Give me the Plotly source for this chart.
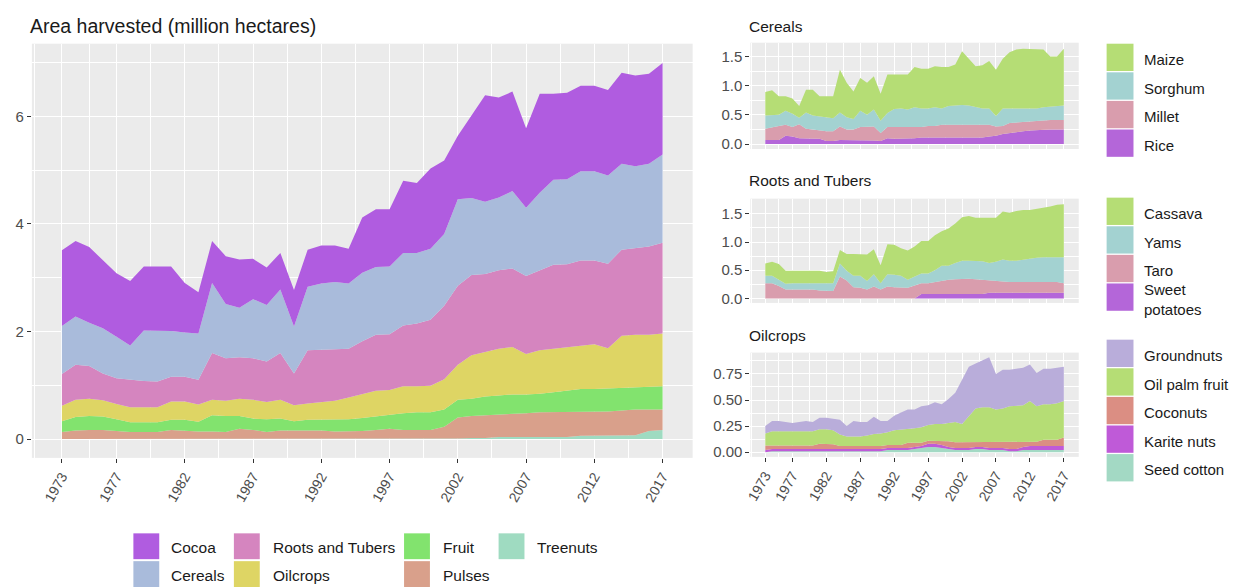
import plotly.graph_objects as go

# ---- data -------------------------------------------------------------
years = list(range(1973, 2018))
tick_years = [1973, 1977, 1982, 1987, 1992, 1997, 2002, 2007, 2012, 2017]
minor_years = [1971, 1975, 1979.5, 1984.5, 1989.5, 1994.5, 1999.5, 2004.5, 2009.5, 2014.5]

# main chart (million hectares), bottom of the stack first
treenuts = [0, 0, 0, 0, 0, 0, 0, 0, 0, 0,
            0, 0, 0, 0, 0, 0, 0, 0, 0, 0,
            0, 0, 0, 0, 0.01, 0.01, 0.01, 0.01, 0.01, 0.01,
            0.02, 0.02, 0.04, 0.04, 0.04, 0.04, 0.04, 0.04, 0.06, 0.06,
            0.06, 0.06, 0.07, 0.15, 0.17]
pulses = [0.13, 0.16, 0.17, 0.17, 0.15, 0.13, 0.13, 0.13, 0.17, 0.15,
          0.14, 0.14, 0.13, 0.19, 0.17, 0.13, 0.16, 0.16, 0.16, 0.16,
          0.14, 0.14, 0.15, 0.17, 0.18, 0.16, 0.16, 0.16, 0.22, 0.39,
          0.41, 0.42, 0.42, 0.43, 0.44, 0.46, 0.46, 0.47, 0.45, 0.45,
          0.45, 0.47, 0.48, 0.40, 0.38]
fruit = [0.20, 0.25, 0.26, 0.25, 0.22, 0.18, 0.18, 0.18, 0.19, 0.21,
         0.18, 0.30, 0.30, 0.24, 0.21, 0.24, 0.22, 0.17, 0.20, 0.20,
         0.22, 0.23, 0.24, 0.25, 0.27, 0.31, 0.33, 0.33, 0.32, 0.33,
         0.32, 0.35, 0.35, 0.36, 0.35, 0.34, 0.37, 0.39, 0.42, 0.42,
         0.43, 0.42, 0.42, 0.43, 0.43]
oilcrops = [0.29, 0.32, 0.32, 0.30, 0.28, 0.28, 0.28, 0.28, 0.34, 0.34,
            0.32, 0.29, 0.28, 0.32, 0.35, 0.32, 0.35, 0.30, 0.30, 0.33,
            0.35, 0.40, 0.45, 0.48, 0.45, 0.50, 0.48, 0.49, 0.56, 0.65,
            0.81, 0.83, 0.87, 0.88, 0.75, 0.81, 0.81, 0.80, 0.81, 0.83,
            0.75, 0.97, 0.97, 0.96, 0.98]
roots = [0.59, 0.65, 0.61, 0.50, 0.48, 0.51, 0.49, 0.48, 0.46, 0.46,
         0.46, 0.87, 0.79, 0.77, 0.77, 0.75, 0.87, 0.59, 0.99, 0.97,
         0.96, 0.91, 0.98, 1.04, 1.04, 1.13, 1.17, 1.23, 1.37, 1.47,
         1.49, 1.45, 1.46, 1.46, 1.45, 1.48, 1.56, 1.55, 1.58, 1.56,
         1.57, 1.60, 1.61, 1.64, 1.69]
cereals = [0.89, 0.90, 0.80, 0.84, 0.77, 0.64, 0.94, 0.95, 0.85, 0.82,
           0.86, 1.30, 1.01, 0.92, 1.10, 1.05, 1.18, 0.87, 1.18, 1.23,
           1.25, 1.21, 1.27, 1.26, 1.26, 1.35, 1.31, 1.32, 1.33, 1.61,
           1.43, 1.34, 1.35, 1.44, 1.27, 1.45, 1.58, 1.58, 1.66, 1.66,
           1.64, 1.60, 1.52, 1.54, 1.64]
cocoa = [1.41, 1.40, 1.41, 1.27, 1.18, 1.20, 1.19, 1.19, 1.20, 0.92,
         0.77, 0.78, 0.89, 0.90, 0.75, 0.70, 0.68, 0.68, 0.69, 0.71,
         0.68, 0.65, 1.03, 1.07, 1.06, 1.34, 1.30, 1.49, 1.37, 1.18,
         1.54, 1.98, 1.86, 1.85, 1.48, 1.84, 1.60, 1.61, 1.59, 1.59,
         1.59, 1.69, 1.69, 1.67, 1.70]

# cereals panel
rice = [0.07, 0.07, 0.07, 0.14, 0.13, 0.10, 0.10, 0.10, 0.09, 0.05,
        0.05, 0.07, 0.07, 0.07, 0.07, 0.06, 0.06, 0.05, 0.10, 0.09,
        0.09, 0.10, 0.10, 0.11, 0.11, 0.11, 0.11, 0.12, 0.12, 0.12,
        0.12, 0.12, 0.11, 0.13, 0.14, 0.17, 0.19, 0.21, 0.22, 0.23,
        0.24, 0.25, 0.25, 0.25, 0.25]
millet = [0.19, 0.22, 0.24, 0.19, 0.16, 0.24, 0.16, 0.15, 0.14, 0.17,
          0.17, 0.23, 0.18, 0.18, 0.22, 0.24, 0.24, 0.14, 0.19, 0.20,
          0.20, 0.19, 0.19, 0.18, 0.20, 0.20, 0.22, 0.21, 0.21, 0.21,
          0.21, 0.21, 0.22, 0.20, 0.16, 0.14, 0.17, 0.16, 0.16, 0.16,
          0.16, 0.16, 0.16, 0.16, 0.16]
sorghum = [0.23, 0.21, 0.19, 0.24, 0.23, 0.11, 0.28, 0.24, 0.24, 0.23,
           0.22, 0.24, 0.21, 0.18, 0.28, 0.20, 0.29, 0.21, 0.24, 0.31,
           0.32, 0.30, 0.34, 0.32, 0.30, 0.32, 0.28, 0.32, 0.33, 0.34,
           0.33, 0.30, 0.28, 0.28, 0.18, 0.30, 0.25, 0.24, 0.23, 0.22,
           0.21, 0.22, 0.23, 0.25, 0.25]
maize = [0.40, 0.42, 0.32, 0.25, 0.26, 0.20, 0.39, 0.44, 0.35, 0.37,
         0.38, 0.73, 0.59, 0.47, 0.56, 0.55, 0.57, 0.46, 0.66, 0.59,
         0.58, 0.60, 0.69, 0.68, 0.68, 0.70, 0.71, 0.67, 0.70, 0.92,
         0.80, 0.70, 0.74, 0.81, 0.79, 0.85, 0.96, 1.01, 1.02, 1.02,
         1.02, 0.99, 0.86, 0.84, 0.97]

# roots and tubers panel
sweet_potatoes = [0, 0, 0, 0, 0, 0, 0, 0, 0, 0,
                  0, 0, 0, 0, 0, 0, 0, 0, 0, 0,
                  0, 0, 0, 0.08, 0.08, 0.08, 0.08, 0.08, 0.08, 0.08,
                  0.08, 0.08, 0.08, 0.10, 0.10, 0.10, 0.10, 0.10, 0.10, 0.10,
                  0.10, 0.10, 0.10, 0.10, 0.10]
taro = [0.27, 0.27, 0.22, 0.16, 0.16, 0.16, 0.16, 0.16, 0.14, 0.14,
        0.13, 0.39, 0.32, 0.20, 0.19, 0.16, 0.21, 0.16, 0.21, 0.20,
        0.19, 0.19, 0.23, 0.19, 0.19, 0.21, 0.24, 0.25, 0.26, 0.27,
        0.27, 0.26, 0.25, 0.22, 0.21, 0.19, 0.19, 0.19, 0.19, 0.19,
        0.19, 0.19, 0.19, 0.19, 0.17]
yams = [0.13, 0.13, 0.11, 0.10, 0.11, 0.11, 0.11, 0.11, 0.13, 0.13,
        0.14, 0.23, 0.17, 0.20, 0.21, 0.15, 0.22, 0.11, 0.22, 0.22,
        0.21, 0.14, 0.16, 0.17, 0.17, 0.21, 0.26, 0.25, 0.29, 0.32,
        0.32, 0.33, 0.33, 0.31, 0.34, 0.40, 0.38, 0.38, 0.40, 0.42,
        0.43, 0.44, 0.44, 0.44, 0.46]
cassava = [0.22, 0.25, 0.28, 0.23, 0.22, 0.22, 0.22, 0.22, 0.22, 0.20,
           0.21, 0.24, 0.30, 0.39, 0.38, 0.47, 0.44, 0.32, 0.53, 0.53,
           0.49, 0.52, 0.53, 0.58, 0.58, 0.62, 0.61, 0.66, 0.70, 0.77,
           0.79, 0.76, 0.77, 0.80, 0.78, 0.85, 0.85, 0.88, 0.88, 0.86,
           0.87, 0.87, 0.90, 0.93, 0.94]

# oilcrops panel
seed_cotton = [0.00, 0.01, 0.01, 0.01, 0.01, 0.01, 0.01, 0.01, 0.01, 0.01,
               0.01, 0.01, 0.01, 0.01, 0.01, 0.01, 0.01, 0.01, 0.02, 0.02,
               0.02, 0.02, 0.03, 0.04, 0.05, 0.05, 0.04, 0.03, 0.02, 0.02,
               0.02, 0.03, 0.03, 0.02, 0.02, 0.02, 0.01, 0.01, 0.02, 0.02,
               0.02, 0.02, 0.02, 0.02, 0.02]
karite = [0.02, 0.02, 0.02, 0.02, 0.02, 0.02, 0.02, 0.02, 0.02, 0.02,
          0.02, 0.02, 0.02, 0.02, 0.02, 0.02, 0.02, 0.02, 0.02, 0.02,
          0.02, 0.02, 0.02, 0.02, 0.03, 0.03, 0.03, 0.02, 0.02, 0.02,
          0.02, 0.02, 0.02, 0.02, 0.02, 0.02, 0.02, 0.02, 0.03, 0.04,
          0.04, 0.04, 0.04, 0.04, 0.04]
coconuts = [0.045, 0.035, 0.035, 0.035, 0.035, 0.035, 0.035, 0.035, 0.05, 0.05,
            0.045, 0.03, 0.03, 0.03, 0.03, 0.03, 0.03, 0.03, 0.03, 0.03,
            0.03, 0.05, 0.04, 0.03, 0.03, 0.03, 0.04, 0.055, 0.055, 0.055,
            0.055, 0.045, 0.05, 0.06, 0.055, 0.055, 0.065, 0.065, 0.05, 0.04,
            0.04, 0.06, 0.06, 0.06, 0.08]
oil_palm = [0.115, 0.135, 0.135, 0.135, 0.135, 0.135, 0.135, 0.135, 0.14, 0.14,
            0.135, 0.11, 0.09, 0.09, 0.09, 0.10, 0.115, 0.12, 0.12, 0.14,
            0.145, 0.135, 0.14, 0.15, 0.15, 0.16, 0.16, 0.175, 0.195, 0.175,
            0.245, 0.325, 0.33, 0.33, 0.315, 0.325, 0.345, 0.35, 0.35, 0.39,
            0.34, 0.34, 0.34, 0.35, 0.35]
groundnuts = [0.07, 0.10, 0.10, 0.09, 0.08, 0.09, 0.10, 0.09, 0.11, 0.11,
              0.11, 0.14, 0.10, 0.15, 0.14, 0.13, 0.165, 0.12, 0.11, 0.14,
              0.165, 0.185, 0.18, 0.20, 0.19, 0.21, 0.19, 0.23, 0.28, 0.42,
              0.48, 0.43, 0.45, 0.48, 0.34, 0.37, 0.35, 0.355, 0.36, 0.35,
              0.32, 0.34, 0.34, 0.34, 0.33]

# ---- colours ----------------------------------------------------------
col = {
    "Cocoa": "#B05CE0", "Cereals": "#A9BBDB", "Roots and Tubers": "#D585BF",
    "Oilcrops": "#DED564", "Fruit": "#82E36E", "Pulses": "#D9A08B",
    "Treenuts": "#9FDBC1",
}
lime, teal, rose, violet = "#B5DD75", "#A3D2D1", "#D99DAD", "#B466D9"

W, H = 1233, 588
FONT = "Liberation Sans, Arial, sans-serif"


def fx(v):
    return v / W


def fy(v):
    return 1 - v / H


fig = go.Figure()


def add_stack(series, group, xa, ya):
    for name, vals, c in series:
        fig.add_trace(go.Scatter(
            x=years, y=vals, name=name, stackgroup=group, mode="lines",
            line=dict(width=0, color=c), fillcolor=c, showlegend=False,
            xaxis=xa, yaxis=ya))


add_stack([("Treenuts", treenuts, col["Treenuts"]),
           ("Pulses", pulses, col["Pulses"]),
           ("Fruit", fruit, col["Fruit"]),
           ("Oilcrops", oilcrops, col["Oilcrops"]),
           ("Roots and Tubers", roots, col["Roots and Tubers"]),
           ("Cereals", cereals, col["Cereals"]),
           ("Cocoa", cocoa, col["Cocoa"])], "main", "x", "y")
add_stack([("Rice", rice, violet), ("Millet", millet, rose),
           ("Sorghum", sorghum, teal), ("Maize", maize, lime)], "cer", "x2", "y2")
add_stack([("Sweet potatoes", sweet_potatoes, violet), ("Taro", taro, rose),
           ("Yams", yams, teal), ("Cassava", cassava, lime)], "rt", "x3", "y3")
add_stack([("Seed cotton", seed_cotton, "#A3D9C4"), ("Karite nuts", karite, "#BF5AD8"),
           ("Coconuts", coconuts, "#DB8E83"), ("Oil palm fruit", oil_palm, lime),
           ("Groundnuts", groundnuts, "#B9ADDA")], "oil", "x4", "y4")

grid = dict(showgrid=True, gridcolor="white", gridwidth=1.4, zeroline=False,
            showline=False, tickcolor="#333333", ticklen=4, tickwidth=1,
            tickfont=dict(family=FONT, size=15, color="#4D4D4D"), fixedrange=True)


def xax(domain, anchor, labels):
    d = dict(grid, domain=domain, anchor=anchor, range=[1970.8, 2019.2],
             tickmode="array", tickvals=tick_years,
             minor=dict(tickvals=minor_years, showgrid=True, gridcolor="white",
                        gridwidth=0.7, ticks=""))
    if labels:
        d.update(ticks="outside", tickangle=-60, tickfont=dict(family=FONT, size=14, color="#4D4D4D"))
    else:
        d.update(ticks="", showticklabels=False)
    return d


def yax(domain, anchor, rng, vals, texts, minors):
    return dict(grid, domain=domain, anchor=anchor, range=rng, tickmode="array",
                tickvals=vals, ticktext=texts, ticks="outside",
                minor=dict(tickvals=minors, showgrid=True, gridcolor="white",
                           gridwidth=0.7, ticks=""))


main_x = [fx(26), fx(690)]
side_x = [fx(748), fx(1078)]

fig.update_layout(
    width=W, height=H, margin=dict(l=0, r=0, t=0, b=0),
    paper_bgcolor="white", plot_bgcolor="#EBEBEB",
    font=dict(family=FONT, color="#1A1A1A"),
    xaxis=xax(main_x, "y", True),
    yaxis=yax([fy(461), fy(44)], "x", [-0.35, 7.35], [0, 2, 4, 6],
              ["0", "2", "4", "6"], [1, 3, 5, 7]),
    xaxis2=xax(side_x, "y2", False),
    yaxis2=yax([fy(150), fy(43)], "x2", [-0.085, 1.735], [0, 0.5, 1, 1.5],
               ["0.0", "0.5", "1.0", "1.5"], [0.25, 0.75, 1.25]),
    xaxis3=xax(side_x, "y3", False),
    yaxis3=yax([fy(305), fy(200)], "x3", [-0.08, 1.77], [0, 0.5, 1, 1.5],
               ["0.0", "0.5", "1.0", "1.5"], [0.25, 0.75, 1.25]),
    xaxis4=xax(side_x, "y4", True),
    yaxis4=yax([fy(460), fy(355)], "x4", [-0.045, 0.955], [0, 0.25, 0.5, 0.75],
               ["0.00", "0.25", "0.50", "0.75"], [0.125, 0.375, 0.625, 0.875]),
    showlegend=False,
)

annotations = []
shapes = []


def text(x, y, s, size):
    annotations.append(dict(x=fx(x), y=fy(y), xref="paper", yref="paper", text=s,
                            showarrow=False, xanchor="left", yanchor="middle", align="left",
                            font=dict(family=FONT, size=size, color="#1A1A1A")))


def key(x, y, c, w=26, h=26):
    shapes.append(dict(type="rect", xref="paper", yref="paper", x0=fx(x), x1=fx(x + w),
                       y0=fy(y + h), y1=fy(y), fillcolor=c, line=dict(width=0)))


# titles
text(22, 26, "Area harvested (million hectares)", 19.5)
text(745, 27, "Cereals", 15.5)
text(745, 182, "Roots and Tubers", 15.5)
text(745, 338, "Oilcrops", 15.5)

# main legend (two rows, filled column-wise like ggplot)
main_legend = [("Cocoa", 128, 537, 164), ("Cereals", 128, 565, 164),
               ("Roots and Tubers", 229, 537, 266), ("Oilcrops", 229, 565, 266),
               ("Fruit", 400, 537, 437), ("Pulses", 400, 565, 437),
               ("Treenuts", 495, 537, 532)]
for name, kx, ky, tx in main_legend:
    key(kx, ky, col[name])
    text(tx, ky + 14, name, 15.5)

# side legends
side_legends = [
    [("Maize", lime), ("Sorghum", teal), ("Millet", rose), ("Rice", violet)],
    [("Cassava", lime), ("Yams", teal), ("Taro", rose), ("Sweet<br>potatoes", violet)],
    [("Groundnuts", "#B9ADDA"), ("Oil palm fruit", lime), ("Coconuts", "#DB8E83"),
     ("Karite nuts", "#BF5AD8"), ("Seed cotton", "#A3D9C4")],
]
tops = [44, 199, 342]
for items, top in zip(side_legends, tops):
    for i, (name, c) in enumerate(items):
        ky = top + i * 28.8
        key(1106, ky, c, 27, 27.5)
        text(1142, ky + 16, name, 15)

fig.update_layout(annotations=annotations, shapes=shapes)

fig.write_html("out.html", config={"displayModeBar": False},
               post_script="document.body.style.margin='0';")
